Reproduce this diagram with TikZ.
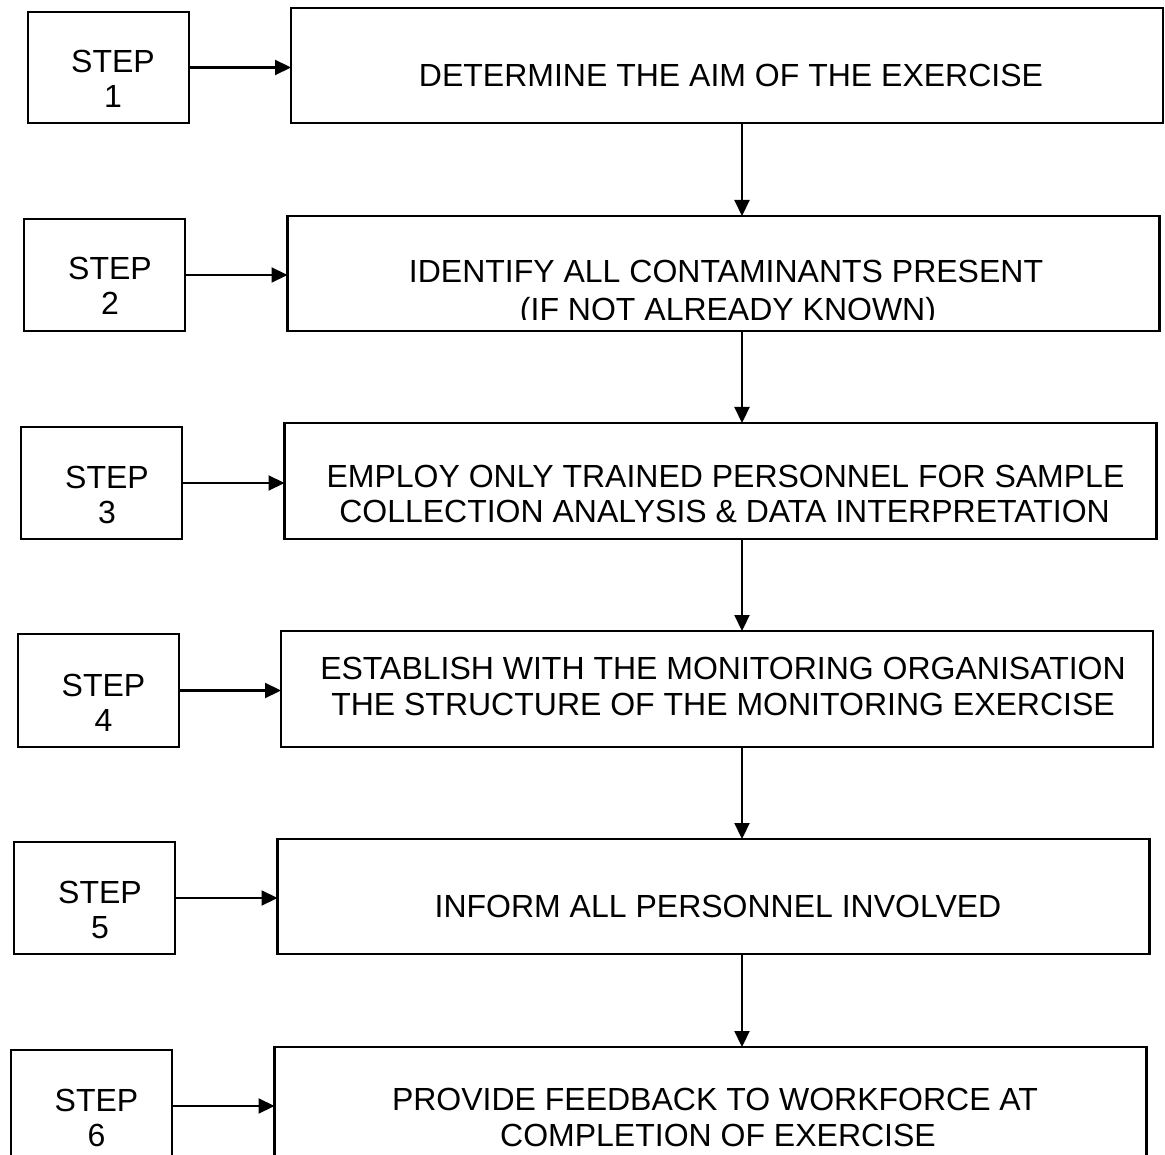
\documentclass[tikz,border=0pt]{standalone}
\usepackage{fontspec}
\setmainfont{Liberation Sans}
\usetikzlibrary{arrows.meta}
\begin{document}
\begin{tikzpicture}[x=1pt,y=-1pt,
  box/.style={draw=black,line width=2.8pt,rectangle,inner sep=0pt,outer sep=0pt},
  stepbox/.style={box,minimum width=161pt},
  mainbox/.style={box,minimum width=872pt},
  txt/.style={anchor=base,inner sep=0pt,font=\fontsize{32}{35}\selectfont},
  arr/.style={line width=2.2pt,-{Triangle[length=16pt,width=15pt]}}]
\clip (0,0) rectangle (1165,1155);
\fill[white] (0,0) rectangle (1165,1155);
% step boxes
\node[stepbox,minimum height=111pt] (s1) at (108.5,67.5) {};
\node[stepbox,minimum height=112pt] (s2) at (104.5,275) {};
\node[stepbox,minimum height=112pt] (s3) at (101.5,483) {};
\node[stepbox,minimum height=113pt] (s4) at (98.5,690.5) {};
\node[stepbox,minimum height=112pt] (s5) at (94.5,898) {};
\node[stepbox,minimum height=112pt] (s6) at (91.5,1106) {};
% main boxes
\node[mainbox,minimum height=115pt] (m1) at (727,65.5) {};
\node[mainbox,minimum height=115pt] (m2) at (723.5,273.5) {};
\node[mainbox,minimum height=116pt] (m3) at (720.5,481) {};
\node[mainbox,minimum height=116pt] (m4) at (717,689) {};
\node[mainbox,minimum height=115pt] (m5) at (713.5,896.5) {};
\node[mainbox,minimum height=115pt] (m6) at (710.5,1104.5) {};
% step texts
\node[txt] (s1a) at (113,73) {STEP};  \node[txt] (s1b) at (113,108) {1};
\node[txt] (s2a) at (110,280) {STEP}; \node[txt] (s2b) at (110,315) {2};
\node[txt] (s3a) at (107,488) {STEP}; \node[txt] (s3b) at (107,523) {3};
\node[txt] (s4a) at (103.5,696) {STEP}; \node[txt] (s4b) at (103.5,731) {4};
\node[txt] (s5a) at (100,903) {STEP}; \node[txt] (s5b) at (100,938) {5};
\node[txt] (s6a) at (96.5,1111) {STEP}; \node[txt] (s6b) at (96.5,1146) {6};
% main texts
\node[txt] (t1) at (731,87) {DETERMINE THE AIM OF THE EXERCISE};
\node[txt] (t2a) at (726,283) {IDENTIFY ALL CONTAMINANTS PRESENT};
\begin{scope}
\clip (300,290) rectangle (1150,320);
\node[txt] (t2b) at (728,321) {(IF NOT ALREADY KNOWN)};
\end{scope}
\node[txt] (t3a) at (725.5,487) {EMPLOY ONLY TRAINED PERSONNEL FOR SAMPLE};
\node[txt] (t3b) at (724.5,522) {COLLECTION ANALYSIS \& DATA INTERPRETATION};
\node[txt] (t4a) at (723,679) {ESTABLISH WITH THE MONITORING ORGANISATION};
\node[txt] (t4b) at (723,715) {THE STRUCTURE OF THE MONITORING EXERCISE};
\node[txt] (t5) at (718,917) {INFORM ALL PERSONNEL INVOLVED};
\node[txt] (t6a) at (715,1110) {PROVIDE FEEDBACK TO WORKFORCE AT};
\node[txt] (t6b) at (718,1146) {COMPLETION OF EXERCISE};
% horizontal arrows
\foreach \i in {1,...,6}{
  \draw[arr] (s\i.east) -- (s\i.east -| m\i.west);
}
% vertical arrows
\coordinate (vx) at (742,0);
\draw[arr] (m1.south -| vx) -- (m2.north -| vx);
\draw[arr] (m2.south -| vx) -- (m3.north -| vx);
\draw[arr] (m3.south -| vx) -- (m4.north -| vx);
\draw[arr] (m4.south -| vx) -- (m5.north -| vx);
\draw[arr] (m5.south -| vx) -- (m6.north -| vx);
\end{tikzpicture}
\end{document}
